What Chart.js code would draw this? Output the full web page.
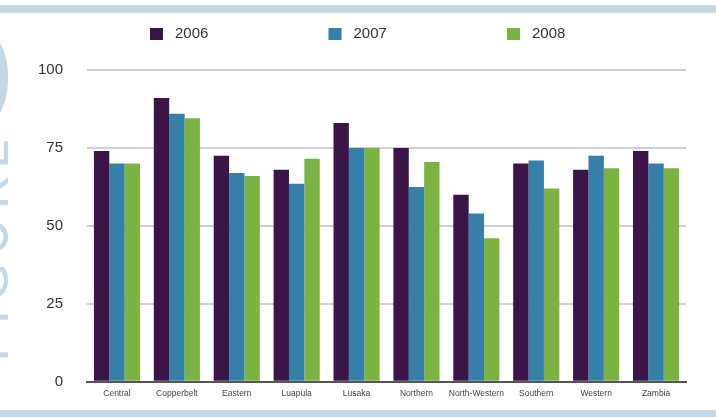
<!DOCTYPE html>
<html>
<head>
<meta charset="utf-8">
<script src="https://cdn.jsdelivr.net/npm/chart.js@4"></script>
<style>
  html, body { margin: 0; padding: 0; background: #fff; }
  #wrap { position: relative; width: 716px; height: 417px; overflow: hidden; }
  .band { position: absolute; left: 0; width: 716px; background: #c4d7e5; }
  #topBand { top: 5px; height: 8px; }
  #bottomBand { top: 410px; height: 7px; }
  canvas { position: absolute; left: 0; top: 0; }
</style>
</head>
<body>
<div id="wrap">
  <div class="band" id="topBand"></div>
  <div class="band" id="bottomBand"></div>
  <canvas id="myChart" width="716" height="417"></canvas>
</div>
<script>
const categories = ['Central', 'Copperbelt', 'Eastern', 'Luapula', 'Lusaka', 'Northern', 'North-Western', 'Southern', 'Western', 'Zambia'];
const seriesNames = ['2006', '2007', '2008'];
const values2006 = [74, 91, 72.5, 68, 83, 75, 60, 70, 68, 74];
const values2007 = [70, 86, 67, 63.5, 75, 62.5, 54, 71, 72.5, 70];
const values2008 = [70, 84.5, 66, 71.5, 75, 70.5, 46, 62, 68.5, 68.5];
const yTicks = [0, 25, 50, 75, 100];

const colors = ['#3b1548', '#3580a8', '#7ab342'];
const font = '"Liberation Sans", Arial, sans-serif';

// big "FIGURE 3" running up the left edge
const figurePlugin = {
    id: 'figureLabel',
    beforeDraw(chart) {
        const c = chart.ctx;
        c.save();
        c.fillStyle = '#c4d7e5';
        c.translate(8, 362);
        c.rotate(-Math.PI / 2);
        c.textBaseline = 'alphabetic';
        c.font = '52px Lato';
        c.letterSpacing = '8px';
        c.fillText('FIGURE', 0, 0);
        c.letterSpacing = '0px';
        c.font = 'bold 225px ' + font;
        c.fillText('3', 222, -3);
        c.restore();
    }
};

// legend spread out along the top
const legendPlugin = {
    id: 'topLegend',
    afterDraw(chart) {
        const c = chart.ctx;
        c.save();
        c.font = '15px ' + font;
        c.textBaseline = 'middle';
        chart.data.datasets.forEach((ds, i) => {
            const x = 150 + i * 178.5;
            c.fillStyle = ds.backgroundColor;
            c.fillRect(x, 28, 13, 12);
            c.fillStyle = '#333';
            c.fillText(ds.label, x + 25, 34);
        });
        c.restore();
    }
};

const ctx = document.getElementById('myChart').getContext('2d');
new Chart(ctx, {
    type: 'bar',
    data: {
        labels: categories,
        datasets: [values2006, values2007, values2008].map((vals, i) => ({
            label: seriesNames[i],
            data: vals,
            backgroundColor: colors[i],
            borderWidth: 0,
            categoryPercentage: 0.77,
            barPercentage: 1
        }))
    },
    options: {
        responsive: false,
        animation: false,
        layout: { padding: { left: 14, right: 30, top: 70, bottom: 11 } },
        plugins: {
            legend: { display: false },
            tooltip: { enabled: false }
        },
        scales: {
            x: {
                grid: { display: false, drawTicks: false },
                border: { display: true, color: '#555', width: 2 },
                ticks: { color: '#444', padding: 7, font: { family: font, size: 8.5 }, maxRotation: 0, autoSkip: false }
            },
            y: {
                min: 0,
                max: 100,
                afterBuildTicks: (scale) => { scale.ticks = yTicks.map(v => ({ value: v })); },
                grid: {
                    drawTicks: false,
                    lineWidth: 2,
                    color: (c) => c.tick && c.tick.value === 0 ? 'rgba(0,0,0,0)' : '#cfcfcf'
                },
                border: { display: false },
                ticks: { color: '#333', padding: 24, font: { family: font, size: 15 } }
            }
        }
    },
    plugins: [figurePlugin, legendPlugin]
});
</script>
</body>
</html>
